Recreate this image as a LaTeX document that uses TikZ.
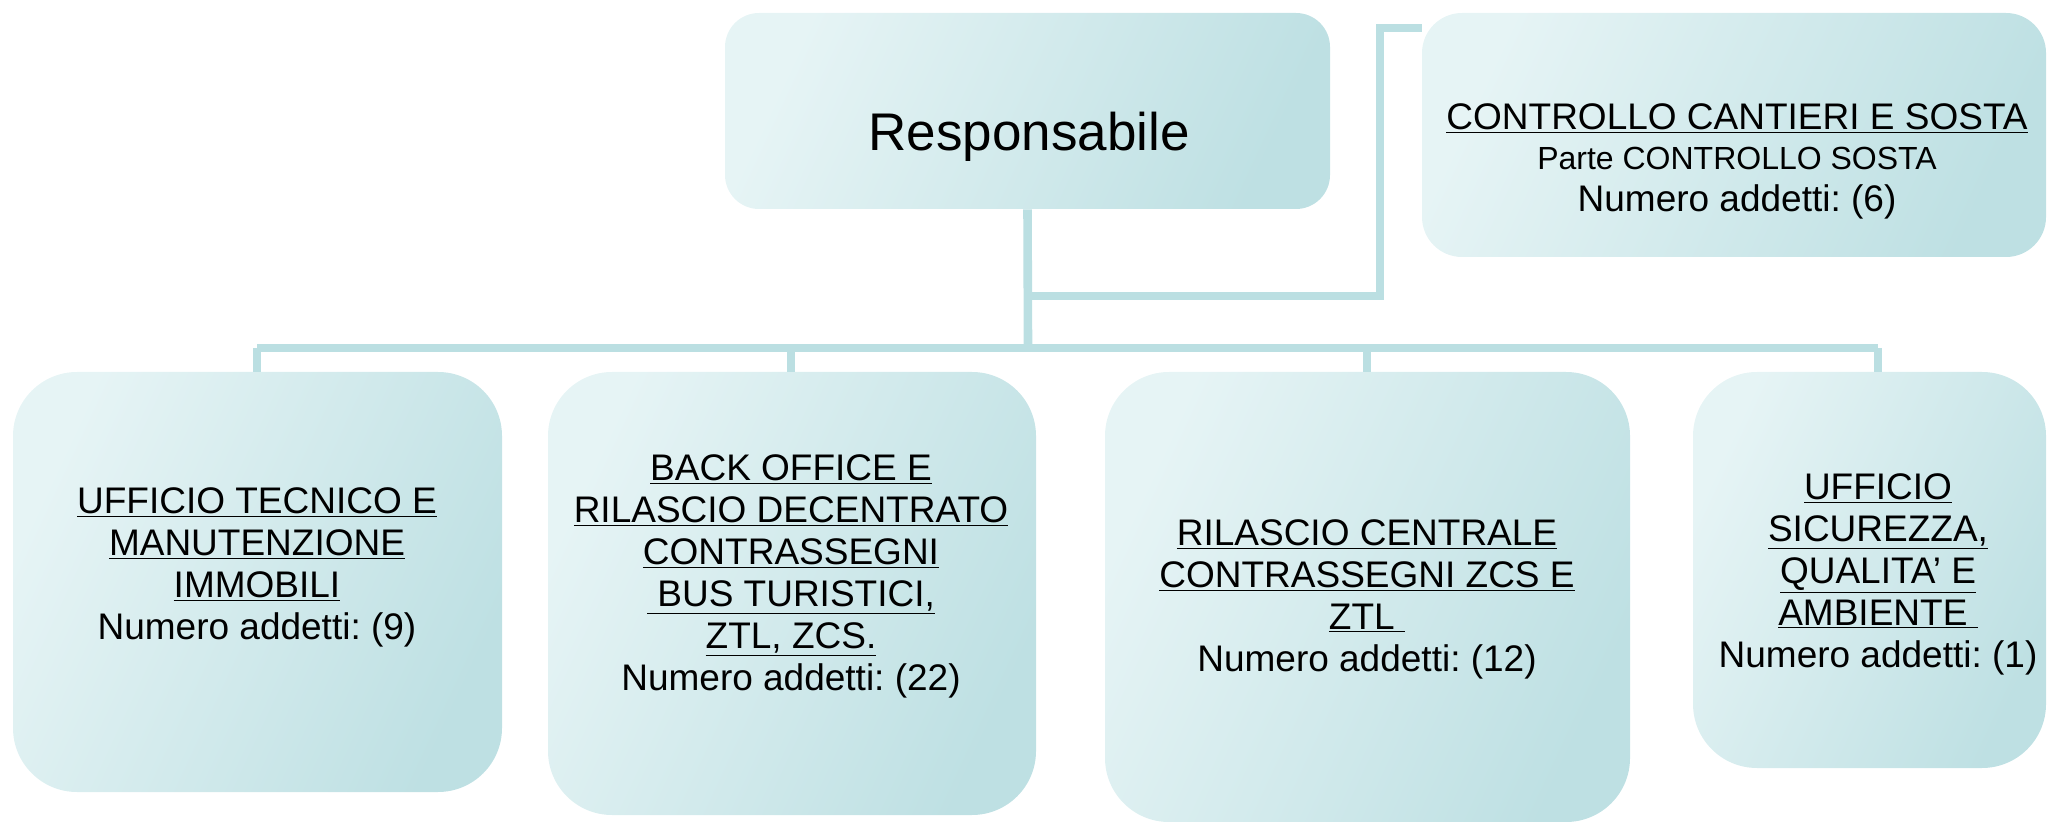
\documentclass[tikz,border=0pt]{standalone}
\usepackage{fontspec}
\setmainfont{Liberation Sans}
\definecolor{boxL}{RGB}{230,244,245}
\definecolor{boxR}{RGB}{190,224,227}
\definecolor{linec}{RGB}{187,223,226}
\begin{document}
\begin{tikzpicture}[x=0.5pt,y=-0.5pt,
  box/.style={rectangle, draw=none, left color=boxL, right color=boxR, shading angle=65},
  conn/.style={draw=linec, line width=4.3pt},
  lbl/.style={align=center, inner sep=0pt, font=\fontsize{18.5pt}{21pt}\selectfont\frenchspacing},
  big/.style={inner sep=0pt, font=\fontsize{26.5pt}{30pt}\selectfont}]
\useasboundingbox (0,0) rectangle (2049,822);

% boxes
\node[box, minimum width=302.5pt, minimum height=98pt, rounded corners=17pt] (resp) at (1027.5,111) {};
\node[box, minimum width=312pt, minimum height=122pt, rounded corners=20pt] (ctrl) at (1734,135) {};
\node[box, minimum width=244.5pt, minimum height=210pt, rounded corners=32pt] (b1) at (257.5,582) {};
\node[box, minimum width=244pt, minimum height=221.5pt, rounded corners=32pt] (b2) at (792,593.5) {};
\node[box, minimum width=262.5pt, minimum height=225pt, rounded corners=32pt] (b3) at (1367.5,597) {};
\node[box, minimum width=176.5pt, minimum height=198pt, rounded corners=32pt] (b4) at (1869.5,570) {};

% texts
\node[big] (tresp) at (1029,137) {Responsabile};
\node[lbl] (tctrl) at (1737,161) {\underline{CONTROLLO CANTIERI E SOSTA}\\[-1pt]
  {\fontsize{16pt}{19pt}\selectfont Parte CONTROLLO SOSTA}\\
  Numero addetti: (6)};
\node[lbl] (t1) at (257,567) {\underline{UFFICIO TECNICO E}\\ \underline{MANUTENZIONE}\\ \underline{IMMOBILI}\\ Numero addetti: (9)};
\node[lbl] (t2) at (791,576) {\underline{BACK OFFICE E}\\ \underline{RILASCIO DECENTRATO}\\ \underline{CONTRASSEGNI}\\ \underline{\ BUS TURISTICI,}\\ \underline{ZTL, ZCS.}\\ Numero addetti: (22)};
\node[lbl] (t3) at (1367,599) {\underline{RILASCIO CENTRALE}\\ \underline{CONTRASSEGNI ZCS E}\\ \underline{ZTL\ }\\ Numero addetti: (12)};
\node[lbl] (t4) at (1878,574) {\underline{UFFICIO}\\ \underline{SICUREZZA,}\\ \underline{QUALITA’ E}\\ \underline{AMBIENTE\ }\\ Numero addetti: (1)};

% connector coordinates
\coordinate (hub) at (1028,348);
\coordinate (split) at (1028,296);
\coordinate (corner) at (1380,296);
\coordinate (p1) at (257,348);
\coordinate (p2) at (791,348);
\coordinate (p3) at (1367,348);
\coordinate (p4) at (1878,348);

% connectors
\draw[conn] (resp.south) -- (hub);
\draw[conn] (split) -- (corner) |- (ctrl.west |- 0,28);
\draw[conn] (p1) -- (p4);
\draw[conn] (p1) -- (p1 |- b1.north);
\draw[conn] (p2) -- (p2 |- b2.north);
\draw[conn] (p3) -- (p3 |- b3.north);
\draw[conn] (p4) -- (p4 |- b4.north);
\end{tikzpicture}
\end{document}
